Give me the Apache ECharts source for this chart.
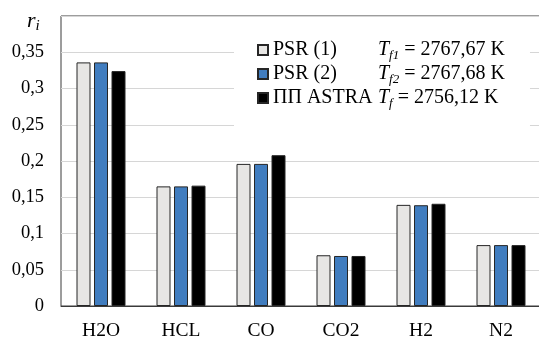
<!DOCTYPE html>
<html>
<head>
<meta charset="utf-8">
<script src="https://cdn.jsdelivr.net/npm/echarts@6/dist/echarts.min.js"></script>
<style>
  html, body { margin: 0; padding: 0; background: #fff; }
  #chart { width: 539px; height: 338px; }
</style>
</head>
<body>
<div id="chart"></div>
<script>
// Species mole fractions at the outlet
const categories = ['H2O', 'HCL', 'CO', 'CO2', 'H2', 'N2'];
const seriesNames = ['PSR (1)', 'PSR (2)', 'ПП ASTRA'];
const psr1 = [0.336, 0.165, 0.196, 0.070, 0.1395, 0.084];
const psr2 = [0.336, 0.165, 0.196, 0.069, 0.139, 0.084];
const astra = [0.324, 0.166, 0.208, 0.069, 0.141, 0.084];
const tempSubs = ['f1', 'f2', 'f'];
const tempValues = ['2767,67', '2767,68', '2756,12'];
const yTicks = { min: 0, max: 0.4, step: 0.05 };

const FONT = '"Liberation Serif", "Times New Roman", serif';
const fills = ['#e7e6e4', '#417dbf', '#000000'];
const values = [psr1, psr2, astra];

const chart = echarts.init(document.getElementById('chart'), null, { renderer: 'canvas' });

const series = seriesNames.map((name, k) => ({
  name: name,
  type: 'bar',
  data: values[k],
  barWidth: 14,
  barGap: '25%',
  itemStyle: { color: fills[k], borderColor: '#262626', borderWidth: 1 }
}));

chart.setOption({
  animation: false,
  backgroundColor: '#ffffff',
  textStyle: { fontFamily: FONT },
  grid: {
    left: 61, top: 16, width: 480, bottom: 32,
    outerBoundsMode: 'none',
    containLabel: false,
    show: true, borderColor: '#3a3a3a', borderWidth: 1
  },
  xAxis: {
    type: 'category',
    data: categories,
    axisLine: { show: true, lineStyle: { color: '#3a3a3a', width: 1 } },
    axisTick: { show: false },
    axisLabel: { color: '#000', fontFamily: FONT, fontSize: 19.5, margin: 15 }
  },
  yAxis: {
    type: 'value',
    min: yTicks.min, max: yTicks.max, interval: yTicks.step,
    axisLine: { show: false },
    axisTick: { show: false },
    splitLine: { lineStyle: { color: '#d6d6d6', width: 1 } },
    axisLabel: {
      color: '#000', fontFamily: FONT, fontSize: 18.5, margin: 17,
      showMaxLabel: false,
      formatter: v => String(Math.round(v * 100) / 100).replace('.', ',')
    }
  },
  legend: {
    orient: 'vertical',
    left: 234, top: 28,
    padding: [12, 25, 20, 23],
    backgroundColor: '#ffffff',
    itemWidth: 10, itemHeight: 10, itemGap: 2,
    icon: 'rect',
    data: seriesNames,
    formatter: name => {
      const i = seriesNames.indexOf(name);
      return '{n|' + name + '}{t|T}{s|' + tempSubs[i] + '}{v| = ' + tempValues[i] + ' K}';
    },
    textStyle: {
      fontFamily: FONT, color: '#000', fontSize: 20,
      rich: {
        n: { fontFamily: FONT, fontSize: 20, width: 105, lineHeight: 24, color: '#000' },
        t: { fontFamily: FONT, fontSize: 20, fontStyle: 'italic', lineHeight: 24, color: '#000' },
        s: { fontFamily: FONT, fontSize: 13, fontStyle: 'italic', lineHeight: 13, verticalAlign: 'bottom', color: '#000' },
        v: { fontFamily: FONT, fontSize: 20, lineHeight: 24, color: '#000' }
      }
    }
  },
  graphic: [{
    type: 'text',
    left: 27, top: 10,
    style: {
      text: '{r|r}{i|i}',
      rich: {
        r: { fontFamily: FONT, fontSize: 22, fontStyle: 'italic', lineHeight: 26, fill: '#000' },
        i: { fontFamily: FONT, fontSize: 15, fontStyle: 'italic', lineHeight: 15, verticalAlign: 'bottom', fill: '#000' }
      }
    }
  }],
  series: series
});
</script>
</body>
</html>
